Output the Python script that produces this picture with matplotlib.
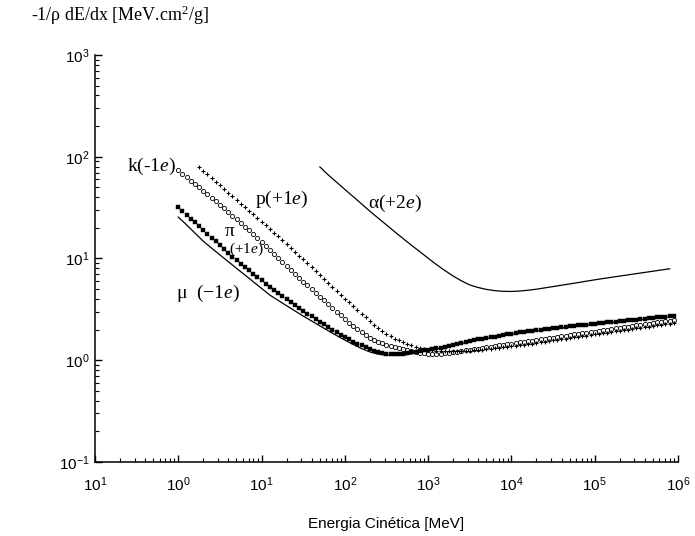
import matplotlib.pyplot as plt
import numpy as np

plt.rcParams['mathtext.fontset'] = 'custom'
plt.rcParams['mathtext.rm'] = 'Liberation Serif'
plt.rcParams['mathtext.it'] = 'Liberation Serif:italic'

# Energy grids, log10(E / MeV)
grid_fine = np.round(np.arange(0, 5.96, 0.05), 2)    # 0 .. 5.95
grid_p = grid_fine[5:]                                # 0.25 .. 5.95
grid_mu = np.round(np.arange(0, 5.91, 0.1), 1)        # 0 .. 5.9
grid_alpha = np.round(np.arange(1.7, 5.91, 0.1), 1)   # 1.7 .. 5.9

# log10 of -1/rho dE/dx [MeV cm2/g]
mu_log = [1.407, 1.330, 1.250, 1.170, 1.102, 1.035, 0.969, 0.903, 0.838, 0.772,
          0.706, 0.640, 0.588, 0.536, 0.485, 0.434, 0.386, 0.338, 0.290, 0.243,
          0.198, 0.155, 0.115, 0.082, 0.060, 0.050, 0.047, 0.050, 0.062, 0.080,
          0.097, 0.112, 0.127, 0.145, 0.164, 0.182, 0.200, 0.214, 0.228, 0.242,
          0.256, 0.268, 0.278, 0.288, 0.298, 0.308, 0.317, 0.327, 0.337, 0.346,
          0.354, 0.362, 0.370, 0.379, 0.387, 0.395, 0.403, 0.411, 0.420, 0.428]

alpha_log = [1.900, 1.822, 1.750, 1.679, 1.608, 1.537, 1.465, 1.397, 1.330, 1.262,
             1.195, 1.130, 1.067, 1.003, 0.940, 0.882, 0.828, 0.780, 0.740, 0.715,
             0.696, 0.684, 0.677, 0.676, 0.680, 0.688, 0.698, 0.711, 0.724, 0.737,
             0.750, 0.763, 0.777, 0.790, 0.803, 0.815, 0.827, 0.839, 0.851, 0.863,
             0.875, 0.887, 0.899]

pion_log = [1.503, 1.466, 1.429, 1.391, 1.354, 1.317, 1.280, 1.242, 1.205, 1.168,
            1.131, 1.093, 1.056, 1.019, 0.982, 0.949, 0.916, 0.883, 0.850, 0.817,
            0.784, 0.751, 0.717, 0.688, 0.659, 0.629, 0.600, 0.571, 0.542, 0.512,
            0.483, 0.457, 0.431, 0.405, 0.379, 0.353, 0.327, 0.300, 0.274, 0.250,
            0.226, 0.204, 0.183, 0.164, 0.147, 0.128, 0.110, 0.093, 0.078, 0.068,
            0.062, 0.060, 0.060, 0.062, 0.066, 0.071, 0.077, 0.083, 0.090, 0.097,
            0.104, 0.111, 0.118, 0.125, 0.132, 0.141, 0.150, 0.160, 0.169, 0.178,
            0.187, 0.196, 0.205, 0.212, 0.219, 0.226, 0.233, 0.240, 0.247, 0.254,
            0.261, 0.268, 0.273, 0.278, 0.283, 0.288, 0.293, 0.298, 0.303, 0.308,
            0.313, 0.318, 0.322, 0.327, 0.332, 0.337, 0.342, 0.347, 0.351, 0.355,
            0.359, 0.363, 0.367, 0.371, 0.375, 0.379, 0.384, 0.388, 0.392, 0.396,
            0.400, 0.404, 0.408, 0.412, 0.416, 0.420, 0.425, 0.429, 0.433, 0.437]

kaon_log = [1.868, 1.834, 1.800, 1.766, 1.732, 1.698, 1.664, 1.630, 1.597, 1.563,
            1.530, 1.494, 1.458, 1.422, 1.385, 1.349, 1.312, 1.276, 1.240, 1.200,
            1.161, 1.121, 1.082, 1.042, 1.003, 0.964, 0.925, 0.886, 0.847, 0.808,
            0.771, 0.735, 0.698, 0.662, 0.625, 0.588, 0.551, 0.514, 0.477, 0.441,
            0.404, 0.368, 0.336, 0.306, 0.277, 0.249, 0.222, 0.202, 0.184, 0.168,
            0.154, 0.141, 0.129, 0.118, 0.107, 0.097, 0.088, 0.080, 0.073, 0.068,
            0.064, 0.062, 0.062, 0.064, 0.068, 0.073, 0.079, 0.085, 0.091, 0.097,
            0.103, 0.109, 0.115, 0.121, 0.127, 0.133, 0.139, 0.145, 0.151, 0.157,
            0.163, 0.169, 0.175, 0.181, 0.187, 0.193, 0.199, 0.205, 0.211, 0.217,
            0.223, 0.229, 0.235, 0.241, 0.247, 0.253, 0.258, 0.264, 0.270, 0.276,
            0.282, 0.288, 0.294, 0.300, 0.306, 0.312, 0.318, 0.324, 0.330, 0.336,
            0.342, 0.348, 0.354, 0.360, 0.366, 0.372, 0.377, 0.382, 0.387, 0.392]

proton_log = [1.897, 1.861, 1.826, 1.790, 1.754, 1.719, 1.683, 1.647, 1.612, 1.576,
              1.540, 1.505, 1.469, 1.433, 1.398,
              1.362, 1.326, 1.291, 1.255, 1.219, 1.183, 1.145, 1.106, 1.068, 1.029,
              0.991, 0.952, 0.914, 0.875, 0.837, 0.798, 0.760, 0.721, 0.683, 0.644,
              0.606, 0.569, 0.532, 0.495, 0.458, 0.421, 0.385, 0.350, 0.317, 0.286,
              0.258, 0.234, 0.213, 0.194, 0.176, 0.160, 0.145, 0.132, 0.120, 0.110,
              0.104, 0.099, 0.095, 0.092, 0.090, 0.089, 0.089, 0.090, 0.091, 0.093,
              0.095, 0.098, 0.101, 0.105, 0.109, 0.113, 0.118, 0.123, 0.128, 0.133,
              0.138, 0.143, 0.148, 0.153, 0.158, 0.164, 0.170, 0.176, 0.182, 0.188,
              0.194, 0.200, 0.206, 0.212, 0.218, 0.224, 0.230, 0.235, 0.241, 0.247,
              0.253, 0.259, 0.265, 0.271, 0.277, 0.283, 0.289, 0.295, 0.301, 0.307,
              0.313, 0.319, 0.325, 0.331, 0.337, 0.343, 0.348, 0.353, 0.358, 0.363]

x_ticks = [1e-1, 1e0, 1e1, 1e2, 1e3, 1e4, 1e5, 1e6]
x_tick_labels = [r'$\mathregular{10^{1}}$', r'$\mathregular{10^{0}}$',
                 r'$\mathregular{10^{1}}$', r'$\mathregular{10^{2}}$',
                 r'$\mathregular{10^{3}}$', r'$\mathregular{10^{4}}$',
                 r'$\mathregular{10^{5}}$', r'$\mathregular{10^{6}}$']
y_ticks = [1e-1, 1e0, 1e1, 1e2, 1e3]
y_tick_labels = [r'$\mathregular{10^{-1}}$', r'$\mathregular{10^{0}}$',
                 r'$\mathregular{10^{1}}$', r'$\mathregular{10^{2}}$',
                 r'$\mathregular{10^{3}}$']

fig = plt.figure(figsize=(6.95, 5.36), dpi=100)
ax = fig.add_axes([0.1367, 0.1381, 0.8388, 0.7593])

def to_lin(v):
    return 10.0 ** np.asarray(v)

# curves
ax.plot(to_lin(grid_alpha), to_lin(alpha_log), color='black', lw=0.9, zorder=2)
ax.plot(to_lin(grid_mu), to_lin(mu_log), color='black', lw=0.9, zorder=2)
ax.plot(to_lin(grid_p), to_lin(proton_log), linestyle='none', marker='+',
        ms=3.2, mew=0.8, color='black', zorder=3)
ax.plot(to_lin(grid_fine), to_lin(kaon_log), linestyle='none', marker='o',
        ms=3.0, mew=0.6, mfc='none', mec='black', zorder=4)
ax.plot(to_lin(grid_fine), to_lin(pion_log), linestyle='none', marker='s',
        ms=3.4, mew=0.3, mfc='black', mec='black', zorder=5)

ax.set_xscale('log')
ax.set_yscale('log')
ax.set_xlim(1e-1, 1e6)
ax.set_ylim(1e-1, 1e3)

ax.set_xticks(x_ticks)
ax.set_xticklabels(x_tick_labels, fontfamily='Liberation Sans', fontsize=11)
ax.set_yticks(y_ticks)
ax.set_yticklabels(y_tick_labels, fontfamily='Liberation Sans', fontsize=11)
ax.xaxis.set_minor_formatter(plt.NullFormatter())
ax.yaxis.set_minor_formatter(plt.NullFormatter())
ax.tick_params(which='major', direction='in', length=5, width=1.0)
ax.tick_params(which='minor', direction='in', length=3, width=0.8)
ax.tick_params(axis='x', which='major', pad=10)
ax.tick_params(axis='y', which='major', pad=4)

for side in ['top', 'right']:
    ax.spines[side].set_visible(False)
for side in ['left', 'bottom']:
    ax.spines[side].set_linewidth(1.1)

# particle labels
serif = 'Liberation Serif'
ax.text(0.93, 80, r'k(-1$e$)', family=serif, fontsize=14, ha='right', va='center')
ax.text(8.3, 38, r'p(+1$e$)', family=serif, fontsize=14, ha='left', va='center')
ax.text(4.2, 18.5, 'π', family=serif, fontsize=14, ha='center', va='center')
ax.text(6.6, 12.2, r'(+1$e$)', family=serif, fontsize=11, ha='center', va='center')
ax.text(0.94, 4.5, r'μ  (−1$e$)', family=serif, fontsize=14, ha='left', va='center')
ax.text(400, 34.6, r'α(+2$e$)', family=serif, fontsize=14, ha='center', va='center')

ax.set_xlabel('Energia Cinética [MeV]', fontfamily='Liberation Sans', fontsize=11,
              labelpad=16)
fig.text(0.045, 0.972, r'-1/ρ dE/dx [MeV.cm$^{\mathregular{2}}$/g]',
         family=serif, fontsize=13, ha='left', va='center')

fig.savefig('out.png', dpi=100)
